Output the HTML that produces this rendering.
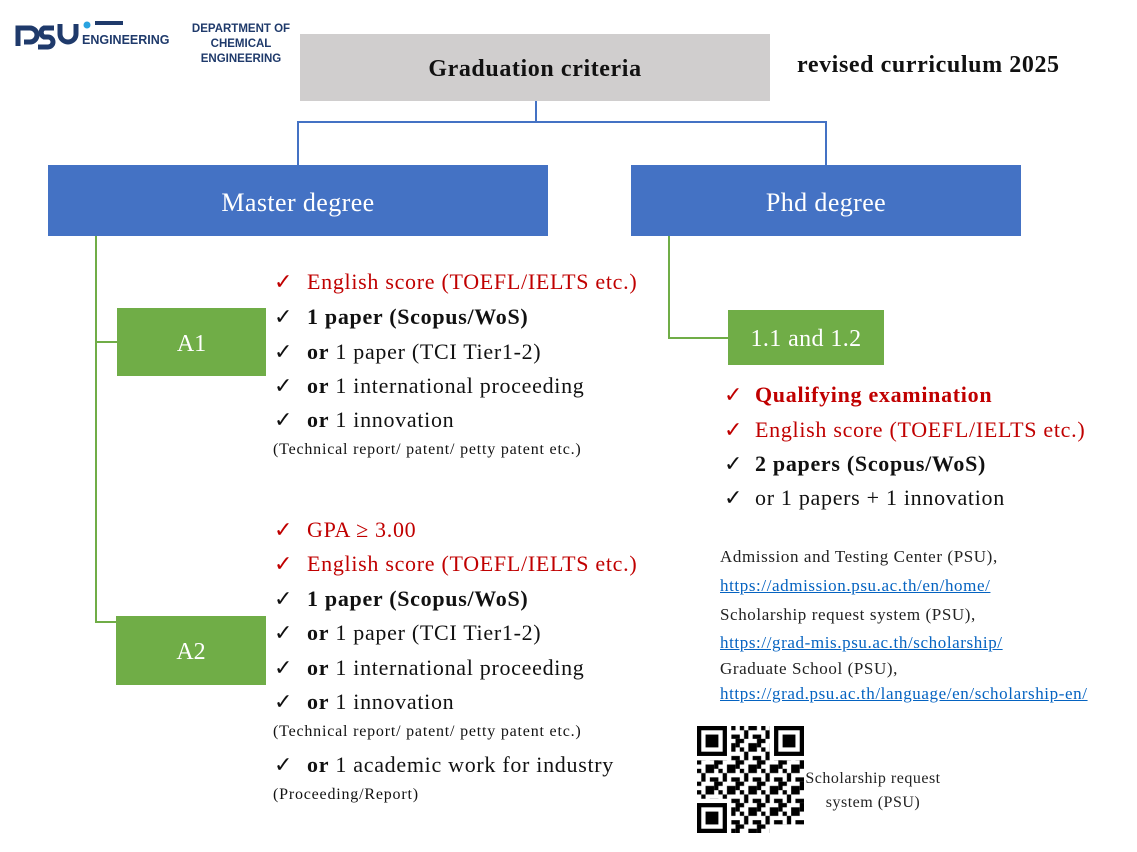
<!DOCTYPE html>
<html><head><meta charset="utf-8"><style>
body{margin:0;width:1137px;height:852px;background:#fff;position:relative;overflow:hidden;font-family:"Liberation Serif",serif;}
.a{position:absolute;white-space:nowrap;}
.box{position:absolute;display:flex;align-items:center;justify-content:center;color:#fff;}
.li{position:absolute;font-size:22px;letter-spacing:0.7px;line-height:26px;white-space:nowrap;color:#111;}
.li .c{display:inline-block;width:33px;font-family:"DejaVu Sans",sans-serif;font-size:22px;font-weight:bold;letter-spacing:0;}
.r{color:#c00000;}
.n{position:absolute;font-size:16px;letter-spacing:0.8px;line-height:18px;white-space:nowrap;color:#111;}
.lk{position:absolute;font-size:17px;letter-spacing:0.6px;line-height:20px;white-space:nowrap;color:#222;}
.lk.u{color:#0563c1;text-decoration:underline;}
.ln{position:absolute;}
</style></head><body>
<svg class="a" style="left:14px;top:18px" width="160" height="40">
<path d="M4 28 V10 h12 a7 7 0 0 1 0 14 h-6" fill="none" stroke="#1f3a6b" stroke-width="5"/>
<path d="M40 10 h-10 a5 5 0 0 0 0 9 h4 a5 5 0 0 1 0 10 h-10" fill="none" stroke="#1f3a6b" stroke-width="5"/>
<path d="M46 6 v10 a8 8 0 0 0 16 0 v-10" fill="none" stroke="#1f3a6b" stroke-width="5"/>
<circle cx="73" cy="7" r="3.5" fill="#29a3e0"/>
<rect x="81" y="3" width="28" height="4" fill="#1f3a6b"/>
</svg>
<div class="a" style="left:82px;top:33px;font:bold 12.5px 'Liberation Sans',sans-serif;color:#1f3a6b">ENGINEERING</div>
<div class="a" style="left:186px;top:22px;width:110px;text-align:center;font:bold 11.5px/15px 'Liberation Sans',sans-serif;color:#1f3a6b">DEPARTMENT OF<br>CHEMICAL<br>ENGINEERING</div>

<div class="box" style="left:300px;top:34px;width:470px;height:67px;background:#d0cece;color:#111;font-weight:bold;font-size:24px;letter-spacing:0.6px;padding-top:4px;box-sizing:border-box;">Graduation criteria</div>
<div class="a" style="left:797px;top:52px;font-weight:bold;font-size:24px;letter-spacing:0.6px;color:#111">revised curriculum 2025</div>

<div class="ln" style="left:535px;top:101px;width:2px;height:22px;background:#4472c4"></div>
<div class="ln" style="left:297px;top:121px;width:530px;height:2px;background:#4472c4"></div>
<div class="ln" style="left:297px;top:121px;width:2px;height:44px;background:#4472c4"></div>
<div class="ln" style="left:825px;top:121px;width:2px;height:44px;background:#4472c4"></div>

<div class="box" style="left:48px;top:165px;width:500px;height:71px;background:#4472c4;font-size:26px;letter-spacing:0.4px;padding-top:4px;box-sizing:border-box;">Master degree</div>
<div class="box" style="left:631px;top:165px;width:390px;height:71px;background:#4472c4;font-size:26px;letter-spacing:0.4px;padding-top:4px;box-sizing:border-box;">Phd degree</div>

<div class="ln" style="left:95px;top:236px;width:2px;height:387px;background:#70ad47"></div>
<div class="ln" style="left:95px;top:341px;width:22px;height:2px;background:#70ad47"></div>
<div class="ln" style="left:95px;top:621px;width:22px;height:2px;background:#70ad47"></div>
<div class="ln" style="left:668px;top:236px;width:2px;height:103px;background:#70ad47"></div>
<div class="ln" style="left:668px;top:337px;width:60px;height:2px;background:#70ad47"></div>

<div class="box" style="left:117px;top:308px;width:149px;height:68px;background:#70ad47;font-size:24px;padding-top:4px;box-sizing:border-box;">A1</div>
<div class="box" style="left:116px;top:616px;width:150px;height:69px;background:#70ad47;font-size:24px;padding-top:4px;box-sizing:border-box;">A2</div>
<div class="box" style="left:728px;top:310px;width:156px;height:55px;background:#70ad47;font-size:24px;letter-spacing:0.4px;padding-top:4px;box-sizing:border-box;">1.1 and 1.2</div>

<div class="li r" style="left:274px;top:269px"><span class="c">✓</span>English score (TOEFL/IELTS etc.)</div>
<div class="li" style="left:274px;top:304px"><span class="c">✓</span><b>1 paper (Scopus/WoS)</b></div>
<div class="li" style="left:274px;top:339px"><span class="c">✓</span><b>or</b> 1 paper (TCI Tier1-2)</div>
<div class="li" style="left:274px;top:373px"><span class="c">✓</span><b>or</b> 1 international proceeding</div>
<div class="li" style="left:274px;top:407px"><span class="c">✓</span><b>or</b> 1 innovation</div>
<div class="n" style="left:273px;top:441px">(Technical report/ patent/ petty patent etc.)</div>

<div class="li r" style="left:274px;top:517px"><span class="c">✓</span>GPA ≥ 3.00</div>
<div class="li r" style="left:274px;top:551px"><span class="c">✓</span>English score (TOEFL/IELTS etc.)</div>
<div class="li" style="left:274px;top:586px"><span class="c">✓</span><b>1 paper (Scopus/WoS)</b></div>
<div class="li" style="left:274px;top:620px"><span class="c">✓</span><b>or</b> 1 paper (TCI Tier1-2)</div>
<div class="li" style="left:274px;top:655px"><span class="c">✓</span><b>or</b> 1 international proceeding</div>
<div class="li" style="left:274px;top:689px"><span class="c">✓</span><b>or</b> 1 innovation</div>
<div class="n" style="left:273px;top:723px">(Technical report/ patent/ petty patent etc.)</div>
<div class="li" style="left:274px;top:752px"><span class="c">✓</span><b>or</b> 1 academic work for industry</div>
<div class="n" style="left:273px;top:786px">(Proceeding/Report)</div>

<div class="li r" style="left:724px;top:382px"><span class="c" style="width:31px">✓</span><b>Qualifying examination</b></div>
<div class="li r" style="left:724px;top:417px"><span class="c" style="width:31px">✓</span>English score (TOEFL/IELTS etc.)</div>
<div class="li" style="left:724px;top:451px"><span class="c" style="width:31px">✓</span><b>2 papers (Scopus/WoS)</b></div>
<div class="li" style="left:724px;top:485px"><span class="c" style="width:31px">✓</span>or 1 papers + 1 innovation</div>

<div class="lk" style="left:720px;top:547px">Admission and Testing Center (PSU),</div>
<div class="lk u" style="left:720px;top:576px">https://admission.psu.ac.th/en/home/</div>
<div class="lk" style="left:720px;top:605px">Scholarship request system (PSU),</div>
<div class="lk u" style="left:720px;top:633px">https://grad-mis.psu.ac.th/scholarship/</div>
<div class="lk" style="left:720px;top:659px">Graduate School (PSU),</div>
<div class="lk u" style="left:720px;top:684px">https://grad.psu.ac.th/language/en/scholarship-en/</div>

<svg class="a" style="left:696px;top:726px" width="109" height="107" viewBox="0 0 25 25">
<defs><pattern id="p" width="5" height="5" patternUnits="userSpaceOnUse">
<rect x="0" y="0" width="1" height="1"/><rect x="2" y="0" width="2" height="1"/><rect x="1" y="1" width="1" height="2"/><rect x="3" y="2" width="2" height="1"/><rect x="0" y="3" width="1" height="1"/><rect x="2" y="4" width="2" height="1"/><rect x="4" y="3" width="1" height="2"/></pattern></defs>
<rect width="25" height="25" fill="#fff"/>
<rect width="25" height="25" fill="url(#p)"/>
<g><rect x="0" y="0" width="8" height="8" fill="#fff"/><rect x="0" y="0" width="7" height="7"/><rect x="1" y="1" width="5" height="5" fill="#fff"/><rect x="2" y="2" width="3" height="3"/></g>
<g><rect x="17" y="0" width="8" height="8" fill="#fff"/><rect x="18" y="0" width="7" height="7"/><rect x="19" y="1" width="5" height="5" fill="#fff"/><rect x="20" y="2" width="3" height="3"/></g>
<g><rect x="0" y="17" width="8" height="8" fill="#fff"/><rect x="0" y="18" width="7" height="7"/><rect x="1" y="19" width="5" height="5" fill="#fff"/><rect x="2" y="20" width="3" height="3"/></g>
<rect x="17" y="23" width="8" height="2" fill="#fff"/>
</svg>
<div class="a" style="left:873px;top:767px;transform:translateX(-50%);text-align:center;font-size:16px;letter-spacing:0.5px;line-height:24px;color:#222">Scholarship request<br>system (PSU)</div>
</body></html>
